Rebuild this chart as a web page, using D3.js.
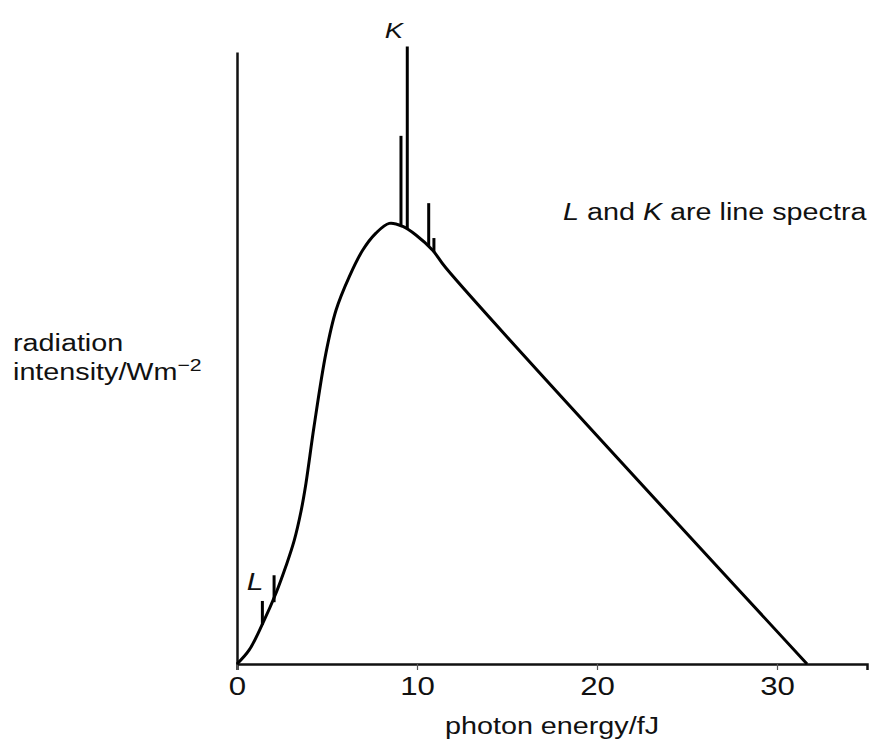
<!DOCTYPE html>
<html>
<head>
<meta charset="utf-8">
<script src="https://cdn.jsdelivr.net/npm/d3@7"></script>
<style>
  body { margin: 0; background: #fff; }
  text { font-family: "Liberation Sans", Arial, sans-serif; fill: #111; }
</style>
</head>
<body>
<script>
// data (energy in fJ, intensity in arbitrary units)
const xTicks = [0, 10, 20, 30];
const curveEnergy    = [0, 0.68, 1.43, 2.17, 2.72, 3.18, 3.56, 3.83, 4.28, 4.94, 5.5, 6.24, 6.98, 7.72, 8.46, 9.21, 9.94, 10.87, 11.61, 31.67];
const curveIntensity = [0, 2.3, 6.65, 11.6, 16.0, 20.2, 25.0, 29.5, 38.8, 50.8, 57.8, 63.3, 67.6, 70.4, 72.0, 71.5, 70.1, 67.6, 64.7, 0];
// line spectra: position, top of line, foot on the curve
const lineEnergy = [1.41, 2.06, 9.11, 9.46, 10.65, 10.94];
const lineTop    = [10.3, 14.5, 86.3, 100.9, 75.3, 69.6];
const lineBase   = [6.4, 10.1, 71.6, 71.2, 68.3, 67.3];

const w = 873, h = 741;
const sx = 1.25; // the lettering in the picture is drawn wide
const svg = d3.select("body").append("svg")
              .attr("width", w)
              .attr("height", h)

const xScale = d3.scaleLinear().domain([0, 35]).range([237, 867])
const yScale = d3.scaleLinear().domain([0, 100]).range([664, 52])

// helper: wide text placed at x,y
function label(x, y, size, anchor) {
  return svg.append("g")
            .attr("transform", "translate(" + x + "," + y + ") scale(" + sx + ",1)")
            .append("text")
            .attr("text-anchor", anchor || "start")
            .style("font-size", size + "px")
}

// x axis
const xAxis = d3.axisBottom(xScale)
                .tickValues(xTicks)
                .tickSizeOuter(0)
                .tickSize(6)
                .tickPadding(7)
const gx = svg.append("g")
   .attr("transform", "translate(0," + yScale(0) + ")")
   .call(xAxis)
gx.select(".domain").attr("stroke", "#111").attr("stroke-width", 2.5)
gx.selectAll(".tick line").attr("stroke", "#555").attr("stroke-width", 1.2)
gx.selectAll(".tick text")
  .attr("fill", "#111")
  .attr("transform", "scale(1.2,1)")
  .style("font-size", "26px")
  .style("font-family", "Liberation Sans, Arial, sans-serif")

// y axis (just the line)
const yAxis = d3.axisLeft(yScale).tickValues([]).tickSizeOuter(0)
const gy = svg.append("g")
   .attr("transform", "translate(" + xScale(0) + ",0)")
   .call(yAxis)
gy.select(".domain").attr("stroke", "#111").attr("stroke-width", 2.5)

// the continuous spectrum
const pts = curveEnergy.map((e, i) => [e, curveIntensity[i]])
const line = d3.line()
               .x(d => xScale(d[0]))
               .y(d => yScale(d[1]))
               .curve(d3.curveCatmullRom.alpha(0.5))
svg.append("path")
   .datum(pts)
   .attr("d", line)
   .attr("fill", "none")
   .attr("stroke", "#000")
   .attr("stroke-width", 3)
   .attr("stroke-linejoin", "round")

// line spectra
svg.selectAll(".spec")
   .data(lineEnergy)
   .enter()
   .append("line")
   .attr("class", "spec")
   .attr("x1", d => xScale(d))
   .attr("x2", d => xScale(d))
   .attr("y1", (d, i) => yScale(lineBase[i]))
   .attr("y2", (d, i) => yScale(lineTop[i]))
   .attr("stroke", "#000")
   .attr("stroke-width", 3)

// labels
label(394, 38, 22, "middle").style("font-style", "italic").text("K")
label(255, 590, 24, "middle").style("font-style", "italic").text("L")

const note = label(563, 220, 23)
note.append("tspan").style("font-style", "italic").text("L")
note.append("tspan").text(" and ")
note.append("tspan").style("font-style", "italic").text("K")
note.append("tspan").text(" are line spectra")

label(552, 734, 23, "middle").text("photon energy/fJ")

label(13, 351, 23).text("radiation")
const yl = label(13, 380, 23)
yl.append("tspan").text("intensity/Wm")
yl.append("tspan").attr("dy", -9).style("font-size", "17px").text("\u22122")
</script>
</body>
</html>
